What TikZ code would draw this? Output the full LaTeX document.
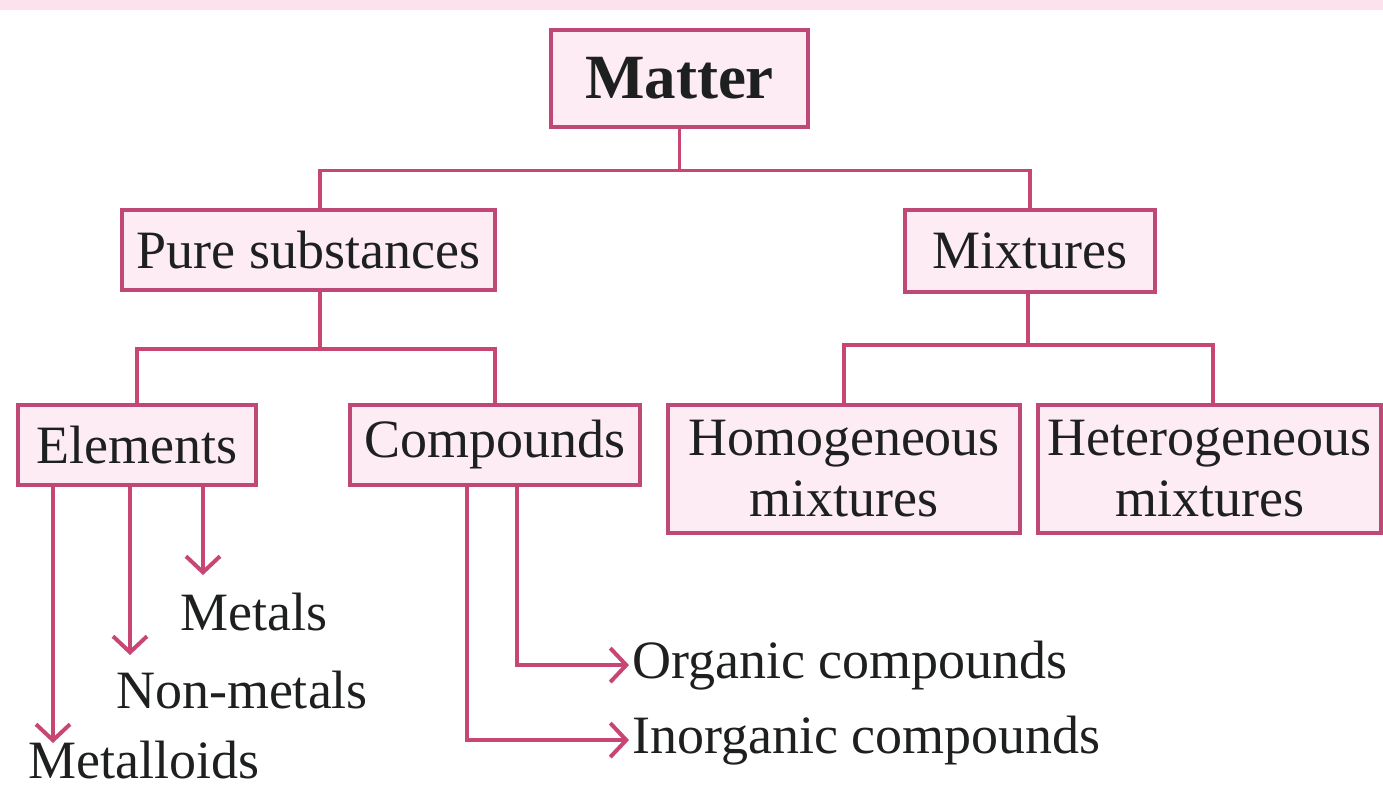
\documentclass[tikz,border=0pt]{standalone}
\usepackage{fontspec}
\setmainfont{Liberation Serif}
\usetikzlibrary{arrows.meta}
\definecolor{boxline}{RGB}{190,72,118}
\definecolor{boxfill}{RGB}{253,236,243}
\definecolor{conn}{RGB}{200,70,115}
\definecolor{txt}{RGB}{30,32,32}
\definecolor{band}{RGB}{252,226,237}
\tikzset{
  cbox/.style={draw=boxline, fill=boxfill, line width=3.5pt, inner sep=0pt, text=txt,
    font=\fontsize{54}{61}\selectfont, align=center},
  conline/.style={draw=conn, line width=3.5pt},
  arr/.style={conline, -{Straight Barb[length=16pt,width=34pt,line width=4pt]}},
  leaf/.style={text=txt, font=\fontsize{54}{61}\selectfont, inner sep=0pt}
}
\begin{document}
\begin{tikzpicture}[x=1pt,y=-1pt]
\useasboundingbox (0,0) rectangle (1383,789);
\fill[band] (0,0) rectangle (1383,10);
\node[cbox, minimum width=257pt, minimum height=97pt, font=\fontsize{63}{70}\selectfont\bfseries] (matter) at (679.5,78.5) {Matter};
\node[cbox, minimum width=373pt, minimum height=80pt] (pure) at (308.5,250) {Pure substances};
\node[cbox, minimum width=250pt, minimum height=82pt] (mix) at (1030,251) {Mixtures};
\node[cbox, minimum width=238pt, minimum height=80pt] (elem) at (137,445) {Elements};
\node[cbox, minimum width=290pt, minimum height=80pt] (comp) at (495,445) {Compounds};
\node[cbox, minimum width=352pt, minimum height=128pt] (homo) at (844,469) {Homogeneous\\mixtures};
\node[cbox, minimum width=343pt, minimum height=128pt] (hetero) at (1209.5,469) {Heterogeneous\\mixtures};
% level 1
\draw[conline] ([xshift=11.5pt]pure.north) -- ++(0,-38) coordinate (j1) -| (mix.north);
\draw[conline] (matter.south) -- (matter.south |- j1);
% level 2 left
\draw[conline] ([xshift=11.5pt]pure.south) -- ++(0,57) coordinate (j2);
\draw[conline] (elem.north) |- (j2) -| (comp.north);
% level 2 right
\draw[conline] ([xshift=-2pt]mix.south) -- ++(0,51) coordinate (j3);
\draw[conline] (homo.north) |- (j3) -| ([xshift=3.5pt]hetero.north);
% elements leaves
\node[leaf, anchor=base] (metals) at (254,630) {Metals};
\node[leaf, anchor=base] (nonmetals) at (242,708) {Non-metals};
\node[leaf, anchor=base west] (metalloids) at (28,778) {Metalloids};
\coordinate (ea) at ([xshift=-84pt]elem.south);
\coordinate (eb) at ([xshift=-7pt]elem.south);
\coordinate (ec) at ([xshift=66pt]elem.south);
\coordinate (ta) at (53,743);
\coordinate (tb) at (130,655);
\coordinate (tc) at (203,575);
\draw[arr] (ea) -- (ta);
\draw[arr] (eb) -- (tb);
\draw[arr] (ec) -- (tc);
% organic / inorganic
\node[leaf, anchor=base west] (org) at (632,678) {Organic compounds};
\node[leaf, anchor=base west] (inorg) at (632,753) {Inorganic compounds};
\draw[arr] ([xshift=22pt]comp.south) |- ([xshift=-3pt]org.west);
\draw[arr] ([xshift=-28pt]comp.south) |- ([xshift=-3pt]inorg.west);
\end{tikzpicture}
\end{document}
